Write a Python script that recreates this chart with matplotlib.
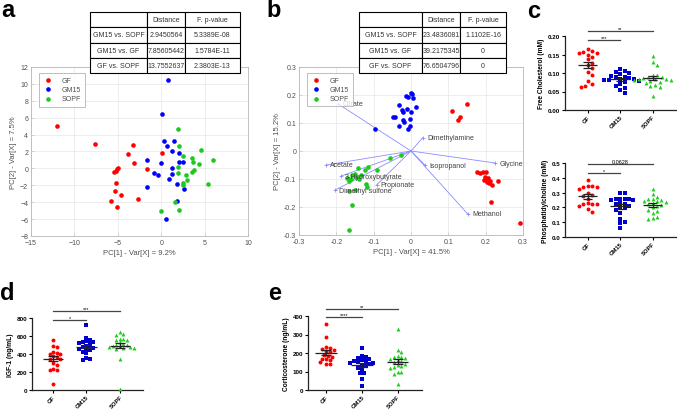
import matplotlib
matplotlib.use("Agg")
import matplotlib.pyplot as plt
import numpy as np

plt.rcParams['font.family'] = ['Liberation Sans', 'DejaVu Sans']

# ---------------- data ----------------
groups = ["GF", "GM15", "SOPF"]

# panel a: PCA scores
a_gf_x = [-12.0, -7.6, -3.3, -3.8, -3.1, -1.6, 0.05, -4.95, -5.1, -5.25, -5.4, -5.2, -5.3, -4.6, -5.8, -5.1, -2.7]
a_gf_y = [5.0, 2.9, 2.8, 1.76, 0.64, -0.08, 1.8, 0.1, -0.1, -0.3, -0.45, -1.7, -2.7, -3.2, -3.8, -4.6, -3.6]
a_gm_x = [0.8, 0.05, 0.3, 1.5, 0.7, 1.2, 2.0, -1.6, 0.0, 2.1, 2.5, 1.3, -0.8, -0.4, 1.2, 0.9, 1.85, 2.6, -1.65, 1.8, 0.6]
a_gm_y = [10.5, 6.4, 3.3, 3.3, 2.7, 2.0, 1.8, 1.0, 0.64, 0.76, 0.76, 0.0, -0.56, -0.76, -0.7, -1.2, -1.84, -2.4, -2.2, -3.9, -6.0]
a_so_x = [1.9, 2.0, 2.5, 4.6, 3.5, 3.7, 4.3, 6.0, 1.9, 3.5, 3.8, 1.9, 2.8, 2.5, 2.5, 3.0, 5.4, 1.6, 2.0, 0.0]
a_so_y = [4.7, 2.7, 1.5, 2.2, 1.2, 0.76, 0.5, 1.0, 0.2, -0.4, -0.2, -0.6, -0.8, -1.7, -2.0, -1.4, -1.9, -4.0, -4.9, -5.1]

# panel b: PCA biplot scores
b_gf_x = [0.109, 0.149, 0.130, 0.125, 0.178, 0.186, 0.193, 0.200, 0.198, 0.203, 0.207, 0.212, 0.210, 0.204, 0.218, 0.234, 0.195, 0.214, 0.293]
b_gf_y = [0.144, 0.169, 0.120, 0.109, -0.075, -0.078, -0.074, -0.076, -0.094, -0.099, -0.097, -0.106, -0.114, -0.111, -0.121, -0.108, -0.105, -0.181, -0.257]
b_gm_x = [-0.001, -0.0125, -0.009, 0.006, 0.014, -0.031, -0.012, -0.024, -0.021, 0.001, -0.047, -0.042, -0.004, -0.022, -0.018, -0.032, -0.004, -0.009, -0.097, 0.003]
b_gm_y = [0.208, 0.195, 0.194, 0.190, 0.156, 0.163, 0.150, 0.145, 0.138, 0.138, 0.122, 0.120, 0.115, 0.109, 0.102, 0.091, 0.091, 0.077, 0.079, 0.205]
b_so_x = [-0.028, -0.056, -0.091, -0.116, -0.142, -0.123, -0.149, -0.157, -0.146, -0.172, -0.166, -0.134, -0.140, -0.121, -0.117, -0.151, -0.167, -0.158, -0.167, -0.160]
b_so_y = [-0.013, -0.025, -0.069, -0.057, -0.060, -0.069, -0.081, -0.085, -0.093, -0.097, -0.108, -0.085, -0.099, -0.118, -0.128, -0.141, -0.144, -0.193, -0.283, -0.100]

# panel b: loadings
load_names = ["Citrate", "Dimethylamine", "Glycine", "Isopropanol", "Acetate",
              "3-Hydroxybutyrate", "Propionate", "Dimethyl sulfone", "Methanol"]
load_x = [-0.195, 0.032, 0.226, 0.038, -0.227, -0.188, -0.092, -0.204, 0.152]
load_y = [0.168, 0.048, -0.043, -0.051, -0.050, -0.090, -0.121, -0.140, -0.225]

# tables
tab_rows = ["GM15 vs. SOPF", "GM15 vs. GF", "GF vs. SOPF"]
tab_a_dist = ["2.9450564", "7.85605442", "13.7552637"]
tab_a_p = ["5.3389E-08", "1.5784E-11", "2.3803E-13"]
tab_b_dist = ["23.4836081", "39.2175345", "76.6504796"]
tab_b_p = ["1.1102E-16", "0", "0"]

# panel c: free cholesterol (mM)
chol_gf = [0.158, 0.155, 0.160, 0.165, 0.153, 0.150, 0.143, 0.137, 0.128, 0.122, 0.114, 0.103, 0.095, 0.078, 0.071, 0.066, 0.063]
chol_gm = [0.110, 0.105, 0.103, 0.100, 0.097, 0.093, 0.090, 0.088, 0.086, 0.084, 0.083, 0.082, 0.080, 0.078, 0.075, 0.070, 0.065, 0.060, 0.055, 0.047]
chol_so = [0.147, 0.130, 0.122, 0.095, 0.094, 0.090, 0.088, 0.086, 0.085, 0.084, 0.083, 0.081, 0.080, 0.078, 0.075, 0.072, 0.068, 0.065, 0.062, 0.037]

# panel c: phosphatidylcholine (mM)
pc_gf = [0.385, 0.345, 0.345, 0.340, 0.335, 0.325, 0.300, 0.285, 0.280, 0.260, 0.230, 0.225, 0.220, 0.220, 0.210, 0.190, 0.170]
pc_gm = [0.300, 0.300, 0.260, 0.258, 0.255, 0.255, 0.250, 0.250, 0.230, 0.225, 0.220, 0.210, 0.200, 0.195, 0.180, 0.160, 0.125, 0.100, 0.095, 0.060]
pc_so = [0.325, 0.290, 0.270, 0.260, 0.255, 0.250, 0.245, 0.240, 0.235, 0.230, 0.225, 0.215, 0.210, 0.200, 0.185, 0.175, 0.160, 0.135, 0.130, 0.125]

# panel d: IGF-1 (ng/mL)
igf_gf = [560, 490, 480, 425, 410, 400, 395, 380, 365, 350, 345, 300, 280, 230, 225, 220, 65]
igf_gm = [727, 580, 560, 540, 535, 530, 525, 520, 490, 480, 475, 470, 460, 450, 440, 425, 410, 360, 340, 335]
igf_so = [640, 620, 610, 570, 565, 560, 555, 530, 510, 500, 495, 490, 485, 480, 478, 470, 465, 460, 350, 15]

# panel e: corticosterone (ng/mL)
cort_gf = [357, 285, 232, 228, 222, 218, 210, 205, 190, 185, 180, 170, 165, 160, 150, 140, 138]
cort_gm = [228, 183, 178, 175, 165, 160, 158, 155, 150, 148, 145, 140, 135, 130, 120, 112, 93, 90, 57, 22]
cort_so = [332, 215, 205, 185, 180, 178, 172, 165, 160, 155, 150, 140, 135, 130, 125, 120, 100, 95, 85, 35]

W, H = 677, 410
fig = plt.figure(figsize=(W / 100, H / 100), dpi=100)


def rect(x0, y0, x1, y1):
    # pixel box -> figure fraction
    return [x0 / W, 1 - y1 / H, (x1 - x0) / W, (y1 - y0) / H]


pca_colors = ["#ff0000", "#0000ff", "#1ec81e"]
txt_gray = "#505050"


def pca_axes(box, data, xlim, ylim, xticks, yticks, xlabel, ylabel):
    ax = fig.add_axes(rect(*box))
    for (xs, ys), c, name in zip(data, pca_colors, groups):
        ax.scatter(xs, ys, s=11, color=c, lw=0, label=name, zorder=3)
    ax.set_xlim(xlim)
    ax.set_ylim(ylim)
    ax.set_xticks(xticks)
    ax.set_yticks(yticks)
    ax.grid(color="#e6e6e6", lw=0.5)
    ax.set_axisbelow(True)
    for s in ax.spines.values():
        s.set_color("#b8b8b8")
        s.set_linewidth(0.6)
    ax.tick_params(direction="in", length=2, width=0.4, color="#b8b8b8",
                   labelsize=5, labelcolor=txt_gray, pad=2)
    ax.set_xlabel(xlabel, fontsize=5.5, color=txt_gray, labelpad=2)
    ax.set_ylabel(ylabel, fontsize=5.5, color=txt_gray, labelpad=2)
    leg = ax.legend(loc="upper left", fontsize=5, frameon=True, fancybox=False,
                    edgecolor="#a0a0a0", handletextpad=1.2, borderpad=0.6,
                    labelspacing=0.3, handlelength=1.5, bbox_to_anchor=(0.02, 0.985))
    leg.get_frame().set_linewidth(0.6)
    for t in leg.get_texts():
        t.set_color(txt_gray)
    return ax


def table_axes(box, dist, pvals, widths):
    tax = fig.add_axes(rect(*box))
    tax.axis("off")
    cells = [["", "Distance", "F. p-value"]] + [[r, d, p] for r, d, p in zip(tab_rows, dist, pvals)]
    tbl = tax.table(cellText=cells, bbox=[0, 0, 1, 1], colWidths=widths, cellLoc="center")
    tbl.auto_set_font_size(False)
    tbl.set_fontsize(5)
    for (r, c), cell in tbl.get_celld().items():
        cell.set_edgecolor("black")
        cell.set_linewidth(0.8)
        cell.set_facecolor("white")
        cell.get_text().set_color("#333333")
        if c == 0:
            cell._loc = "left"
            cell.PAD = 0.05
    return tax


# ---- panel a ----
pca_axes((31, 68, 248, 237),
         [(a_gf_x, a_gf_y), (a_gm_x, a_gm_y), (a_so_x, a_so_y)],
         (-15, 10), (-8, 12), range(-15, 11, 5), range(-8, 13, 2),
         "PC[1] - Var[X] = 9.2%", "PC[2] - Var[X] = 7.5%")
table_axes((90, 13, 240, 74), tab_a_dist, tab_a_p, [0.38, 0.253, 0.367])

# ---- panel b ----
axb = pca_axes((299, 68, 523, 236),
               [(b_gf_x, b_gf_y), (b_gm_x, b_gm_y), (b_so_x, b_so_y)],
               (-0.3, 0.3), (-0.3, 0.3), np.arange(-0.3, 0.31, 0.1), np.arange(-0.3, 0.31, 0.1),
               "PC[1] - Var[X] = 41.5%", "PC[2] - Var[X] = 15.2%")
axb.set_xticklabels(["-0.3", "-0.2", "-0.1", "0", "0.1", "0.2", "0.3"])
axb.set_yticklabels(["-0.3", "-0.2", "-0.1", "0", "0.1", "0.2", "0.3"])
for name, lx, ly in zip(load_names, load_x, load_y):
    axb.plot([0, lx], [0, ly], color="#8c8cff", lw=0.6, zorder=2)
    axb.plot(lx, ly, marker="+", color="#8c8cff", ms=3, mew=0.6, zorder=2)
    axb.annotate(name, (lx, ly), xytext=(3, 0), textcoords="offset points",
                 fontsize=5, color="#404040", va="center", ha="left", zorder=4)
table_axes((359, 13, 506, 74), tab_b_dist, tab_b_p, [0.429, 0.259, 0.312])

# ---- dot plots ----
dot_colors = ["#ff0000", "#0000cc", "#22cc22"]
dot_markers = ["o", "s", "^"]


def swarm(vals, ppu_x, ppu_y, d):
    vals = np.asarray(vals, float)
    order = np.argsort(-vals)
    placed = []
    offs = np.zeros(len(vals))
    for idx in order:
        py = vals[idx] * ppu_y
        k = 0
        while True:
            cands = [0.0] if k == 0 else [k * d * 0.5, -k * d * 0.5]
            ok = None
            for cx in cands:
                if all((cx - qx) ** 2 + (py - qy) ** 2 >= d ** 2 for qx, qy in placed):
                    ok = cx
                    break
            if ok is not None:
                break
            k += 1
        placed.append((ok, py))
        offs[idx] = ok / ppu_x
    return offs


def dot_axes(box, data, xlim, ylim, yticks, ylabel, sigs, yfmt, d):
    ax = fig.add_axes(rect(*box))
    ax.set_xlim(xlim)
    ax.set_ylim(ylim)
    ppu_x = (box[2] - box[0]) / (xlim[1] - xlim[0])
    ppu_y = (box[3] - box[1]) / (ylim[1] - ylim[0])
    for i, vals in enumerate(data):
        offs = swarm(vals, ppu_x, ppu_y, d)
        ax.scatter(i + offs, vals, s=8, marker=dot_markers[i], color=dot_colors[i],
                   lw=0, zorder=3, clip_on=False)
        m = np.mean(vals)
        se = np.std(vals, ddof=1) / np.sqrt(len(vals))
        ax.hlines(m, i - 0.3, i + 0.3, color="#222222", lw=0.9, zorder=4)
        ax.hlines([m - se, m + se], i - 0.14, i + 0.14, color="#222222", lw=0.9, zorder=4)
        ax.vlines(i, m - se, m + se, color="#222222", lw=0.9, zorder=4)
    for s in ["top", "right"]:
        ax.spines[s].set_visible(False)
    for s in ["left", "bottom"]:
        ax.spines[s].set_linewidth(0.9)
        ax.spines[s].set_color("#222222")
    ax.set_yticks(yticks)
    ax.set_yticklabels([yfmt.format(v) for v in yticks])
    ax.set_xticks([0, 1, 2])
    ax.set_xticklabels(groups, rotation=45, ha="right", rotation_mode="anchor")
    ax.tick_params(length=2, width=0.8, labelsize=4.5, pad=1.5)
    ax.tick_params(axis="x", labelsize=4.2, pad=1)
    for t in ax.get_xticklabels() + ax.get_yticklabels():
        t.set_fontweight("bold")
    ax.set_ylabel(ylabel, fontsize=4.8, fontweight="bold", labelpad=2)
    for (i0, i1, y, lab) in sigs:
        ax.plot([i0, i1], [y, y], color="#444444", lw=0.9, clip_on=False)
        ax.text((i0 + i1) / 2, y, lab, ha="center", va="bottom", fontsize=4, clip_on=False)
    return ax


dot_axes((565, 37, 677, 111), [chol_gf, chol_gm, chol_so], (-0.7, 2.75), (0, 0.2),
         [0, 0.05, 0.10, 0.15, 0.20], "Free Cholesterol (mM)",
         [(0, 1, 0.189, "***"), (0, 2, 0.213, "**")], "{:.2f}", 4.6)
dot_axes((565, 164, 677, 238), [pc_gf, pc_gm, pc_so], (-0.7, 2.75), (0, 0.5),
         [0, 0.1, 0.2, 0.3, 0.4, 0.5], "Phosphatidylcholine (mM)",
         [(0, 1, 0.435, "*"), (0, 2, 0.495, "0.0628")], "{:.1f}", 4.4)
dot_axes((32, 319, 143, 391), [igf_gf, igf_gm, igf_so], (-0.63, 2.69), (0, 800),
         [0, 200, 400, 600, 800], "IGF-1 (ng/mL)",
         [(0, 1, 780, "*"), (0, 2, 880, "***")], "{:.0f}", 3.5)
dot_axes((308, 317, 422, 391), [cort_gf, cort_gm, cort_so], (-0.5, 2.68), (0, 400),
         [0, 100, 200, 300, 400], "Corticosterone (ng/mL)",
         [(0, 1, 393, "****"), (0, 2, 440, "**")], "{:.0f}", 3.8)

# panel letters
for lab, x, y in [("a", 1, 17), ("b", 266, 17), ("c", 527, 18), ("d", 0, 300), ("e", 268, 300)]:
    fig.text(x / W, 1 - y / H, lab, fontsize=17, fontweight="bold", va="baseline", ha="left")

fig.savefig("out.png", dpi=100)
